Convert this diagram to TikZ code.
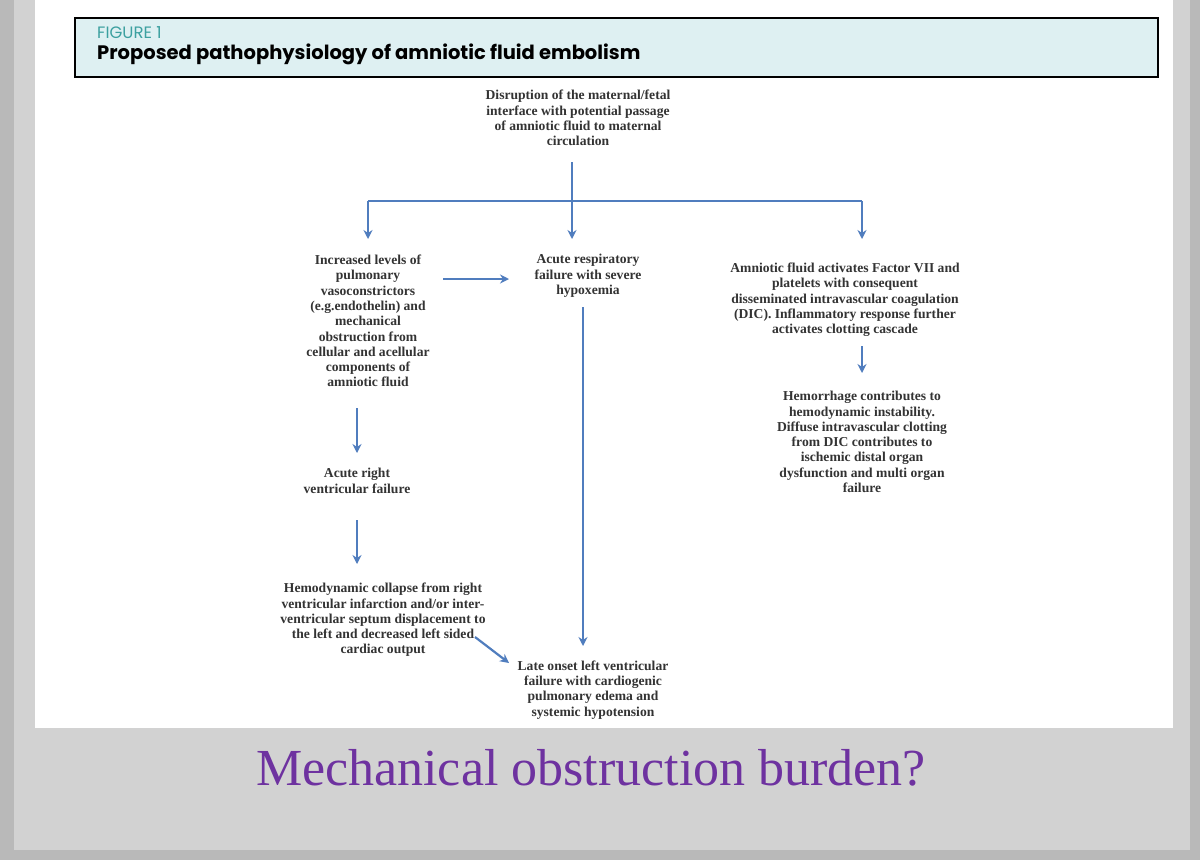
\documentclass[tikz,border=0pt]{standalone}
\usepackage{fontspec}
\setmainfont{Liberation Serif}
\newfontfamily\titlefont{Poppins}
\usetikzlibrary{arrows.meta}
\definecolor{arr}{RGB}{80,125,190}
\definecolor{hdr}{RGB}{222,240,242}
\definecolor{teal1}{RGB}{60,160,160}
\definecolor{purp}{RGB}{110,50,160}
\begin{document}
\begin{tikzpicture}[x=1pt,y=-1pt,
  txt/.style={align=center,font=\fontsize{13.6}{15.3}\selectfont\bfseries,text=black!80,inner sep=0pt},
  ar/.style={draw=arr,line width=2.2pt,-{Stealth[length=9pt,width=9pt]}},
  ln/.style={draw=arr,line width=2.2pt}]
\useasboundingbox (0,0) rectangle (1200,860);
\fill[gray!55] (0,0) rectangle (1200,860);
\fill[gray!35] (14,0) rectangle (1190,850);
\fill[white] (35,0) rectangle (1173,728);
\draw[fill=hdr,line width=1.3pt] (75,18) rectangle (1158,77);
\node[anchor=west,text=teal1,font=\titlefont\fontsize{16.5}{18}\selectfont,inner sep=0pt] (fig) at (97,33) {FIGURE 1};
\node[anchor=west,font=\titlefont\fontsize{19.5}{22}\selectfont\bfseries,inner sep=0pt] (ttl) at (97,54) {Proposed pathophysiology of amniotic fluid embolism};

\node[txt] (top) at (578,118) {Disruption of the maternal/fetal\\interface with potential passage\\of amniotic fluid to maternal\\circulation};
\node[txt] (L1) at (368,321) {Increased levels of\\pulmonary\\vasoconstrictors\\(e.g.endothelin) and\\mechanical\\obstruction from\\cellular and acellular\\components of\\amniotic fluid};
\node[txt] (M1) at (588,276) {Acute respiratory\\failure with severe\\hypoxemia};
\node[txt] (R1) at (845,300) {Amniotic fluid activates Factor VII and\\platelets with consequent\\disseminated intravascular coagulation\\(DIC). Inflammatory response further\\activates clotting cascade};
\node[txt] (R2) at (862,442) {Hemorrhage contributes to\\hemodynamic instability.\\Diffuse intravascular clotting\\from DIC contributes to\\ischemic distal organ\\dysfunction and multi organ\\failure};
\node[txt] (L2) at (357,481) {Acute right\\ventricular failure};
\node[txt] (L3) at (383,620) {Hemodynamic collapse from right\\ventricular infarction and/or inter-\\ventricular septum displacement to\\the left and decreased left sided\\cardiac output};
\node[txt] (M2) at (593,690) {Late onset left ventricular\\failure with cardiogenic\\pulmonary edema and\\systemic hypotension};

\coordinate (j) at (572,201);
\coordinate (jl) at (368,201);
\coordinate (jr) at (862,201);
\draw[ln] (572,162) -- (j);
\draw[ln] (jl) -- (jr);
\draw[ar] (jl) -- (368,239);
\draw[ar] (j) -- (572,239);
\draw[ar] (jr) -- (862,239);
\draw[ar] (443,279) -- (509,279);
\draw[ar] (862,346) -- (862,373);
\draw[ar] (357,408) -- (357,453);
\draw[ar] (357,520) -- (357,564);
\draw[ar] (583,307) -- (583,646);
\draw[ar] (475,637) -- (509,663);

\node[text=purp,font=\fontsize{52}{56}\selectfont] (q) at (591,768) {Mechanical obstruction burden?};
\end{tikzpicture}
\end{document}
